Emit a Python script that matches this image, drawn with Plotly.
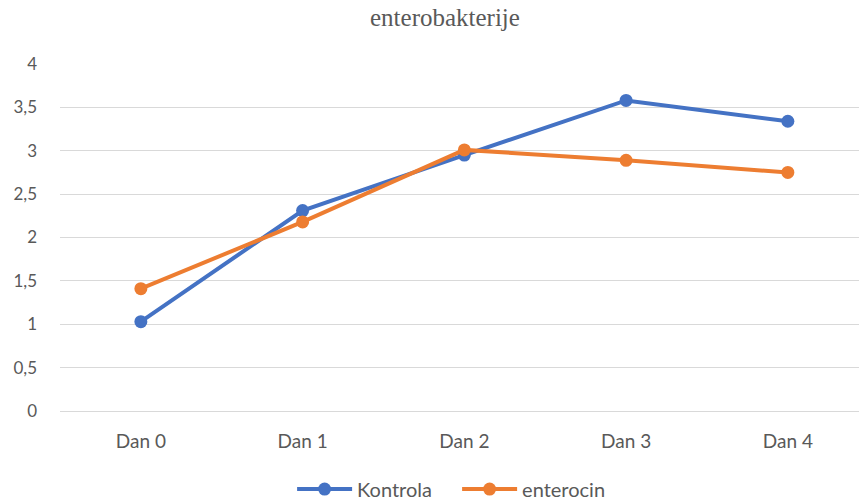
import plotly.graph_objects as go

categories = ["Dan 0", "Dan 1", "Dan 2", "Dan 3", "Dan 4"]
kontrola = [1.03, 2.31, 2.95, 3.58, 3.34]
enterocin = [1.41, 2.18, 3.01, 2.89, 2.75]
y_ticks = [0, 0.5, 1, 1.5, 2, 2.5, 3, 3.5, 4]

fig = go.Figure()
fig.add_trace(go.Scatter(x=categories, y=kontrola, name="Kontrola", mode="lines+markers",
                         line=dict(color="#4472C4", width=4), marker=dict(size=13, color="#4472C4")))
fig.add_trace(go.Scatter(x=categories, y=enterocin, name="enterocin", mode="lines+markers",
                         line=dict(color="#ED7D31", width=4), marker=dict(size=13, color="#ED7D31")))

fig.update_layout(
    width=859, height=501,
    margin=dict(l=60, r=0, t=64, b=90, autoexpand=False),
    paper_bgcolor="white", plot_bgcolor="white",
    separators=",.",
    font=dict(family="Lato, Calibri, sans-serif", size=17, color="#595959"),
    title=dict(text="enterobakterije", x=0.518, xanchor="center", y=0.966, yanchor="middle",
               font=dict(family="Liberation Serif, Times New Roman, serif", size=25, color="#595959")),
    xaxis=dict(type="category", range=[-0.5, 4.44], showgrid=False, showline=False, zeroline=False,
               ticks="", ticklabelstandoff=17, tickfont=dict(size=19)),
    yaxis=dict(range=[0, 4], tickvals=y_ticks, showgrid=True, gridcolor="#D9D9D9", gridwidth=1,
               zeroline=True, zerolinecolor="#D9D9D9", zerolinewidth=1, showline=False, ticks="",
               ticklabelstandoff=22),
    legend=dict(orientation="h", x=0.497, xanchor="center", y=-0.225, yanchor="middle",
                font=dict(size=20, color="#595959"), itemwidth=55, tracegroupgap=0,
                entrywidth=95, entrywidthmode="pixels"),
    showlegend=True,
)

fig.write_html("out.html", config={"displayModeBar": False},
               post_script="document.body.style.margin='0';document.body.style.overflow='hidden';")
